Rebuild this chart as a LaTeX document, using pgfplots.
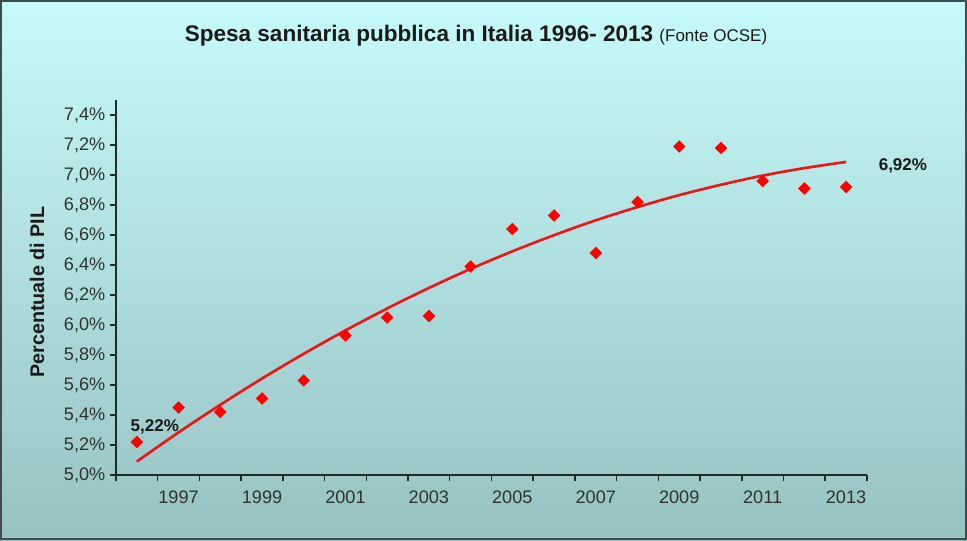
\documentclass[border=0pt]{standalone}
\usepackage{pgfplots}
\pgfplotsset{compat=1.18}
\usepackage{fontspec}
\setmainfont{Liberation Sans}
\definecolor{bgtop}{HTML}{C6FAFA}
\definecolor{bgbot}{HTML}{97C2C2}
\definecolor{axc}{HTML}{1E2B2B}
\definecolor{txt}{HTML}{1A1A1A}
\definecolor{mred}{HTML}{FF0000}
\definecolor{tred}{HTML}{E81818}

\pgfplotstableread{
year val
1996 5.22
1997 5.45
1998 5.42
1999 5.51
2000 5.63
2001 5.93
2002 6.05
2003 6.06
2004 6.39
2005 6.64
2006 6.73
2007 6.48
2008 6.82
2009 7.19
2010 7.18
2011 6.96
2012 6.91
2013 6.92
}\spesa

\pgfplotstableread{
year val
1996 5.090
1997 5.284
1998 5.468
1999 5.643
2000 5.808
2001 5.964
2002 6.110
2003 6.247
2004 6.374
2005 6.491
2006 6.599
2007 6.698
2008 6.786
2009 6.866
2010 6.935
2011 6.996
2012 7.046
2013 7.087
}\trend

\begin{document}
\begin{tikzpicture}[x=0.75pt,y=0.75pt]
\useasboundingbox (0,0) rectangle (967,540);
\shade[top color=bgtop,bottom color=bgbot] (0,0) rectangle (967,540);
\draw[line width=1.2pt, color=axc!85] (0.8,0.8) rectangle (966.2,539.2);
\node[anchor=base, text=txt] at (476,498.7) {\fontsize{16.9}{20}\selectfont\bfseries Spesa sanitaria pubblica in Italia 1996- 2013 \mdseries\fontsize{12.75}{15}\selectfont(Fonte OCSE)};
\node[rotate=90, text=txt] at (37,248) {\fontsize{14.8}{17}\selectfont\bfseries Percentuale di PIL};
\begin{axis}[
  at={(87pt,48.75pt)}, anchor=south west,
  scale only axis, width=563.25pt, height=281.25pt,
  xmin=1995.5, xmax=2013.5, ymin=5, ymax=7.5,
  axis lines*=left,
  axis line style={line width=1.1pt, color=axc},
  tick style={line width=1.1pt, color=axc},
  tick align=outside, major tick length=4.5pt,
  xtick={1995.5,1996.5,...,2013.5},
  x tick label as interval,
  xticklabels={{},1997,{},1999,{},2001,{},2003,{},2005,{},2007,{},2009,{},2011,{},2013},
  xticklabel style={yshift=-3.5pt},
  ytick={5,5.2,5.4,5.6,5.8,6,6.2,6.4,6.6,6.8,7,7.2,7.4},
  /pgf/number format/assume math mode=true,
  yticklabel={\pgfmathprintnumber[fixed,fixed zerofill,precision=1,use comma]{\tick}\%},
  ticklabel style={font=\fontsize{13.6}{16}\selectfont, text=txt!90},
  clip=false,
]
\addplot[color=tred, line width=2pt, smooth, no markers] table[x=year,y=val] {\trend};
\addplot[only marks, mark=square*, mark size=3.1pt, mark options={rotate=45, fill=mred, draw=mred}] table[x=year,y=val] {\spesa};
\node[anchor=base west, text=txt, font=\fontsize{12.75}{15}\selectfont\bfseries] at (axis cs:1995.74,5.287) {5,22\%};
\node[anchor=base west, text=txt, font=\fontsize{12.75}{15}\selectfont\bfseries] at (axis cs:2013.67,7.033) {6,92\%};
\end{axis}
\end{tikzpicture}
\end{document}
